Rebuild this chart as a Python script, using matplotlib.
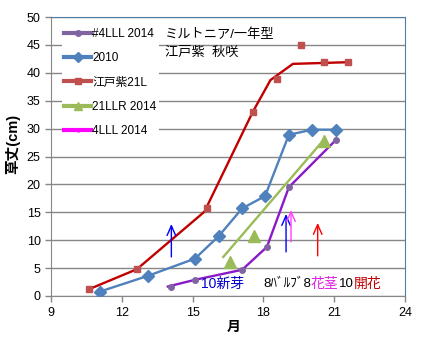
import matplotlib
matplotlib.use("Agg")
import matplotlib.pyplot as plt
from matplotlib.lines import Line2D

plt.rcParams['font.family'] = ['Liberation Sans', 'Noto Sans CJK JP', 'DejaVu Sans']

# --- data -------------------------------------------------------------
# #4LLL 2014
lll4_x = [14.1, 15.1, 17.1, 18.15, 19.08, 21.08]
lll4_y = [1.7, 2.9, 4.7, 8.8, 19.5, 28.0]
lll4_line_x = [13.95, 15.1, 17.1, 18.15, 19.08, 21.08]
lll4_line_y = [1.7, 2.9, 4.7, 8.8, 19.5, 28.0]

# 2010
s2010_x = [11.08, 13.1, 15.1, 16.1, 17.1, 18.07, 19.08, 20.06, 21.08]
s2010_y = [0.8, 3.6, 6.7, 10.7, 15.7, 17.9, 28.9, 29.8, 29.8]

# 江戸紫21L
edo_x = [10.6, 12.64, 15.6, 17.56, 18.58, 19.6, 20.57, 21.58]
edo_y = [1.2, 4.8, 15.8, 32.9, 38.9, 45.0, 41.9, 41.9]
edo_line_x = [10.6, 12.64, 15.5, 17.55, 18.3, 19.25, 21.58]
edo_line_y = [1.2, 4.8, 15.1, 33.0, 38.7, 41.6, 41.9]

# 21LLR 2014
llr_x = [16.58, 17.6, 20.57]
llr_y = [6.1, 10.8, 27.8]
llr_line_x = [16.3, 20.6]
llr_line_y = [7.0, 28.2]

# growth-stage arrows: (x, y_start, y_end)
arrow_sprout = (14.1, 7.0, 12.9)
arrow_bulb = (18.96, 7.9, 14.7)
arrow_stem = (19.17, 9.7, 15.4)
arrow_bloom = (20.3, 7.2, 13.1)

x_ticks = [9, 12, 15, 18, 21, 24]
y_ticks = [0, 5, 10, 15, 20, 25, 30, 35, 40, 45, 50]

c_purple = '#8064A2'
c_purple_line = '#8A1AC8'
c_blue = '#4F81BD'
c_red = '#C0504D'
c_red_line = '#C00000'
c_green = '#9BBB59'
c_magenta = '#FF00FF'

# --- figure -----------------------------------------------------------
fig = plt.figure(figsize=(4.21, 3.41), dpi=100)
ax = fig.add_axes([51/421, 45/341, 354/421, 279/341])

ax.set_xlim(9, 24)
ax.set_ylim(0, 50)
ax.set_xticks(x_ticks)
ax.set_yticks(y_ticks)
ax.yaxis.grid(True, color='#868686', lw=1)
ax.set_axisbelow(True)

for side in ('left', 'bottom'):
    ax.spines[side].set_color('#868686')
for side in ('top', 'right'):
    ax.spines[side].set_color('#4F7FA8')
ax.tick_params(axis='both', colors='#868686', labelcolor='black',
               labelsize=9, length=4, width=1)
ax.tick_params(axis='x', pad=4)

# lines
ax.plot(edo_line_x, edo_line_y, color=c_red_line, lw=1.7, zorder=3)
ax.plot(s2010_x, s2010_y, color=c_blue, lw=1.7, zorder=3)
ax.plot(llr_line_x, llr_line_y, color=c_green, lw=1.7, zorder=3)
ax.plot(lll4_line_x, lll4_line_y, color=c_purple_line, lw=1.7, zorder=3)

# markers
ax.plot(edo_x, edo_y, ls='none', marker='s', ms=5, color=c_red, zorder=4)
ax.plot(s2010_x, s2010_y, ls='none', marker='D', ms=6.5, color=c_blue, zorder=4)
ax.plot(llr_x, llr_y, ls='none', marker='^', ms=8, color=c_green, zorder=4)
ax.plot(lll4_x, lll4_y, ls='none', marker='o', ms=4, color=c_purple, zorder=4)

# arrows
def up_arrow(spec, color):
    x, y0, y1 = spec
    ax.annotate('', xy=(x, y1), xytext=(x, y0),
                arrowprops=dict(arrowstyle='->,head_length=0.5,head_width=0.22',
                                mutation_scale=14, color=color, lw=1,
                                shrinkA=0, shrinkB=0), zorder=5)

up_arrow(arrow_sprout, '#0000FF')
up_arrow(arrow_bulb, '#0000FF')
up_arrow(arrow_stem, '#FF40FF')
up_arrow(arrow_bloom, '#FF0000')

# stage labels
ax.text(15.35, 2.2, '10新芽', color='#0000CC', fontsize=10, va='center', ha='left')
t1 = ax.text(17.98, 2.2, '8ﾊﾞﾙﾌﾞ8', color='black', fontsize=9.5, va='center', ha='left')
t2 = ax.annotate('花茎', xy=(1, 0.5), xycoords=t1, color='#E020E0', fontsize=10,
                 va='center', ha='left')
t3 = ax.annotate('10', xy=(1, 0.5), xycoords=t2, color='black', fontsize=9.5,
                 va='center', ha='left')
ax.annotate('開花', xy=(1, 0.5), xycoords=t3, color='#C00000', fontsize=10,
            va='center', ha='left')

# title block
ax.text(13.83, 46.8, 'ミルトニア/一年型', fontsize=9.5, va='center', ha='left')
ax.text(13.83, 43.5, '江戸紫  秋咲', fontsize=9.5, va='center', ha='left')

# axis labels
ax.set_ylabel('草丈(cm)', fontsize=10.5, fontweight='bold')
ax.yaxis.set_label_coords(-0.088, 0.545)
ax.set_xlabel('月', fontsize=10, fontweight='bold')
ax.xaxis.set_label_coords(0.517, -0.085)

# legend
handles = [
    Line2D([], [], color=c_purple, lw=3, marker='o', ms=4),
    Line2D([], [], color=c_blue, lw=3, marker='D', ms=5),
    Line2D([], [], color=c_red, lw=3, marker='s', ms=5),
    Line2D([], [], color=c_green, lw=3, marker='^', ms=6),
    Line2D([], [], color=c_magenta, lw=3, marker='o', ms=2),
]
labels = ['#4LLL 2014', '2010', '江戸紫21L', '21LLR 2014', '4LLL 2014']
leg = ax.legend(handles, labels, loc='upper left', bbox_to_anchor=(0.03, 0.97),
                fontsize=8.5, frameon=True, facecolor='white', edgecolor='none',
                framealpha=1, fancybox=False, handlelength=2.3, handletextpad=0.1,
                labelspacing=1.05, borderpad=0.2, borderaxespad=0)
leg.set_zorder(6)

fig.savefig('out.png', dpi=100)
